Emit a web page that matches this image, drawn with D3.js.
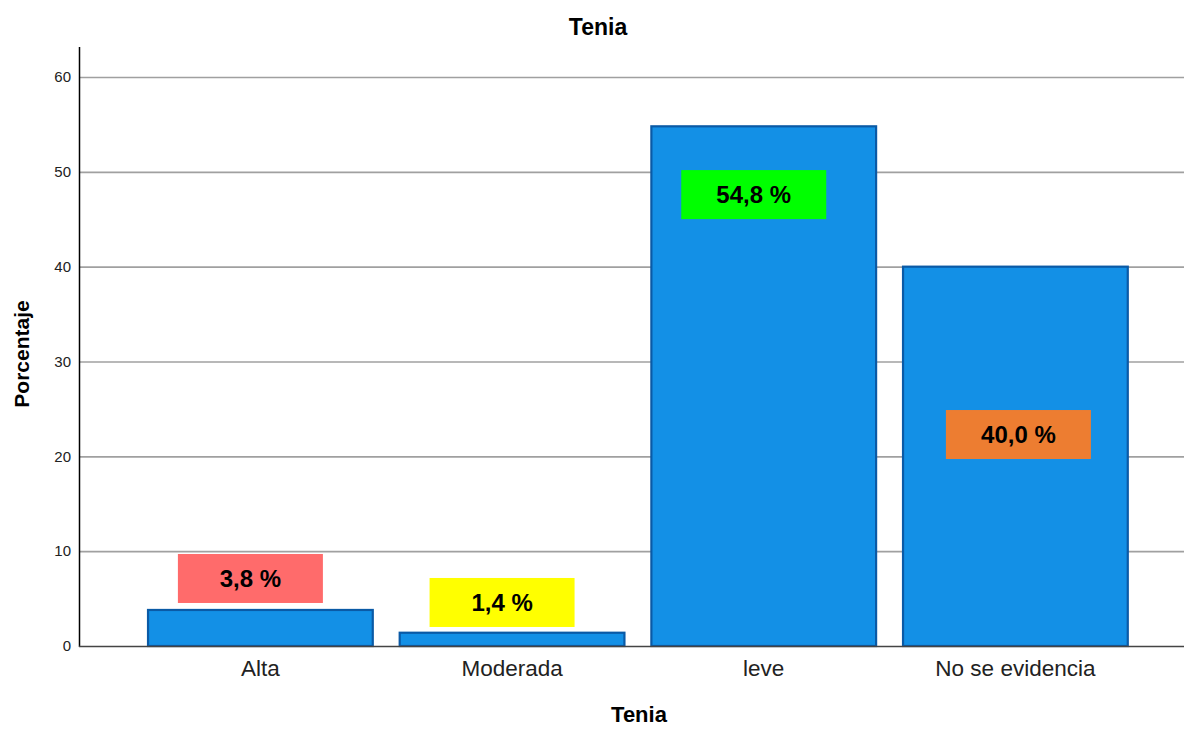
<!DOCTYPE html>
<html><head><meta charset="utf-8">
<script src="https://cdn.jsdelivr.net/npm/d3@7"></script>
<style>
html,body{margin:0;padding:0;background:#fff;}
svg{display:block;}
</style></head>
<body>
<svg id="chart" width="1184" height="729"></svg>
<script>
const categories = ["Alta", "Moderada", "leve", "No se evidencia"];
const percentages = [3.8, 1.4, 54.8, 40.0];
const labelTexts = ["3,8 %", "1,4 %", "54,8 %", "40,0 %"];
const labelColors = ["#ff6b6b", "#ffff00", "#00ff00", "#ed7d31"];
const yTicks = [0, 10, 20, 30, 40, 50, 60];

// label box centre positions (in axis units) and horizontal shift (px) – layout only
const labelCenterY = [7.12, 4.59, 47.6, 22.3];
const labelShiftX = [-10, -10, -10, 3];

const svg = d3.select("#chart");
const axisX = 79, plotRight = 1184, plotBottom = 646, plotTop = 47;

const x = d3.scaleBand().domain(categories).range([121.1, 1154.7]).padding(0.107);
const y = d3.scaleLinear().domain([0, 60]).range([plotBottom, 77]);

// gridlines
svg.append("g").selectAll("line").data(yTicks.filter(d => d > 0)).join("line")
  .attr("x1", axisX).attr("x2", plotRight)
  .attr("y1", d => y(d) + 0.5).attr("y2", d => y(d) + 0.5)
  .attr("stroke", "#a0a0a0").attr("stroke-width", 1.6);

// bars
svg.append("g").selectAll("rect").data(percentages).join("rect")
  .attr("x", (d, i) => x(categories[i]))
  .attr("y", d => y(d))
  .attr("width", x.bandwidth())
  .attr("height", d => plotBottom - y(d))
  .attr("fill", "#1390e6")
  .attr("stroke", "#0a5aa6").attr("stroke-width", 2.2);

// axes
const yAxis = d3.axisLeft(y).tickValues(yTicks).tickSize(0).tickPadding(8);
const gy = svg.append("g").attr("transform", `translate(${axisX},0)`).call(yAxis);
gy.select(".domain").remove();
gy.selectAll("text").attr("font-family", "'Liberation Sans', Arial, sans-serif")
  .attr("font-size", 15).attr("fill", "#222");
svg.append("line").attr("x1", axisX + 0.5).attr("x2", axisX + 0.5).attr("y1", plotTop).attr("y2", plotBottom + 1)
  .attr("stroke", "#000").attr("stroke-width", 1.5);

const xAxis = d3.axisBottom(x).tickSize(0).tickPadding(14);
const gx = svg.append("g").attr("transform", `translate(0,${plotBottom})`).call(xAxis);
gx.select(".domain").remove();
gx.selectAll("text").attr("font-family", "'Liberation Sans', Arial, sans-serif")
  .attr("font-size", 22.5).attr("fill", "#222");
svg.append("line").attr("x1", axisX).attr("x2", plotRight).attr("y1", plotBottom + 0.5).attr("y2", plotBottom + 0.5)
  .attr("stroke", "#444").attr("stroke-width", 1.5);

// labels
const lbl = svg.append("g").selectAll("g").data(percentages).join("g")
  .attr("transform", (d, i) => `translate(${x(categories[i]) + x.bandwidth() / 2 + labelShiftX[i]},${y(labelCenterY[i])})`);
lbl.append("rect").attr("x", -72.5).attr("y", -24.5).attr("width", 145).attr("height", 49)
  .attr("fill", (d, i) => labelColors[i]);
lbl.append("text").attr("text-anchor", "middle").attr("dy", "0.36em")
  .attr("font-family", "'Liberation Sans', Arial, sans-serif").attr("font-weight", "bold")
  .attr("font-size", 24).attr("fill", "#000")
  .text((d, i) => labelTexts[i]);

// titles
svg.append("text").attr("x", 598).attr("y", 35).attr("text-anchor", "middle")
  .attr("font-family", "'Liberation Sans', Arial, sans-serif").attr("font-weight", "bold")
  .attr("font-size", 23).text("Tenia");
svg.append("text").attr("x", 639).attr("y", 722).attr("text-anchor", "middle")
  .attr("font-family", "'Liberation Sans', Arial, sans-serif").attr("font-weight", "bold")
  .attr("font-size", 22).text("Tenia");
svg.append("text").attr("transform", "translate(29,354) rotate(-90)").attr("text-anchor", "middle")
  .attr("font-family", "'Liberation Sans', Arial, sans-serif").attr("font-weight", "bold")
  .attr("font-size", 21).text("Porcentaje");
</script>
</body></html>
